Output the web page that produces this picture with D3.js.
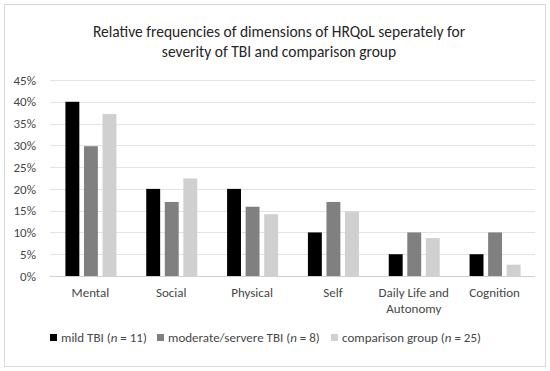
<!DOCTYPE html>
<html>
<head>
<meta charset="utf-8">
<title>HRQoL dimensions by TBI severity</title>
<script src="https://cdn.jsdelivr.net/npm/d3@7"></script>
<style>
  body { margin: 0; background: #fff; }
  text { font-family: Carlito, Lato, "Open Sans", sans-serif; }
</style>
</head>
<body>
<div class="chart"></div>
<script>
// data
var categories = ["Mental", "Social", "Physical", "Self", "Daily Life and Autonomy", "Cognition"];
var series = ["mild TBI", "moderate/servere TBI", "comparison group"];
var seriesN = [11, 8, 25];
var mild = [40, 20, 20, 10, 5, 5];
var moderate = [29.8, 17, 15.9, 17, 10, 10];
var comparison = [37.2, 22.4, 14.2, 14.8, 8.7, 2.6];
var yTicks = [0, 5, 10, 15, 20, 25, 30, 35, 40, 45];

var values = [mild, moderate, comparison];
var colors = ["#000000", "#808080", "#d0d0d0"];
var labelColor = "#474747";

var width = 550, height = 371;
var plotLeft = 50, plotRight = 535, plotTop = 80, plotBottom = 276;

var svg = d3.select(".chart").append("svg")
    .attr("width", width)
    .attr("height", height);

// outer frame
svg.append("rect")
    .attr("x", 4.5).attr("y", 4.5)
    .attr("width", 541).attr("height", 362)
    .attr("fill", "#fff")
    .attr("stroke", "#d9d9d9");

// title
var title = svg.append("text")
    .attr("text-anchor", "middle")
    .attr("font-size", 15.5)
    .attr("fill", "#262626");
title.append("tspan").attr("x", 279).attr("y", 37).text("Relative frequencies of dimensions of HRQoL seperately for");
title.append("tspan").attr("x", 279).attr("y", 57).text("severity of TBI and comparison group");

var x0 = d3.scaleBand().domain(categories).range([plotLeft, plotRight]);
var x1 = d3.scaleBand().domain(series).range([x0.bandwidth() / 2 - 25, x0.bandwidth() / 2 + 26]).paddingInner(0.25);
var y = d3.scaleLinear().domain([0, 45]).range([plotBottom, plotTop]);

// gridlines
svg.append("g").selectAll("line")
    .data(yTicks)
    .enter().append("line")
    .attr("x1", plotLeft).attr("x2", plotRight)
    .attr("y1", function(d){ return Math.round(y(d)) + 0.5; })
    .attr("y2", function(d){ return Math.round(y(d)) + 0.5; })
    .attr("stroke", function(d){ return d === 0 ? "#d0d0d0" : "#e3e3e3"; })
    .attr("stroke-width", 1.2);

// y axis labels
var yAxis = svg.append("g")
    .attr("transform", "translate(" + (plotLeft - 11) + ",0)")
    .call(d3.axisLeft(y).tickValues(yTicks).tickSize(0).tickFormat(function(d){ return d + "%"; }));
yAxis.select(".domain").remove();
yAxis.selectAll("text")
    .attr("font-size", 13)
    .attr("fill", labelColor)
    .attr("font-family", "Carlito, Lato, sans-serif");

// bars
var groups = svg.append("g").selectAll("g")
    .data(categories)
    .enter().append("g")
    .attr("transform", function(d){ return "translate(" + x0(d) + ",0)"; });

groups.selectAll("rect")
    .data(function(d, i){ return series.map(function(s, j){ return {s: s, v: values[j][i], c: colors[j]}; }); })
    .enter().append("rect")
    .attr("x", function(d){ return x1(d.s); })
    .attr("width", x1.bandwidth())
    .attr("y", function(d){ return y(d.v); })
    .attr("height", function(d){ return y(0) - y(d.v); })
    .attr("fill", function(d){ return d.c; });

// category labels
var xAxis = svg.append("g")
    .attr("transform", "translate(0," + plotBottom + ")")
    .call(d3.axisBottom(x0).tickSize(0).tickFormat(""));
xAxis.select(".domain").remove();
xAxis.selectAll(".tick").each(function(d){
    var t = d3.select(this).append("text")
        .attr("text-anchor", "middle")
        .attr("font-size", 13)
        .attr("fill", labelColor);
    var lines = d === "Daily Life and Autonomy" ? ["Daily Life and", "Autonomy"] : [d];
    lines.forEach(function(l, k){
        t.append("tspan").attr("x", 0).attr("y", 21 + k * 16).text(l);
    });
});

// legend
var legendX = [50, 157, 331];
var legend = svg.append("g").selectAll("g")
    .data(series)
    .enter().append("g")
    .attr("transform", function(d, i){ return "translate(" + legendX[i] + ",334)"; });
legend.append("rect")
    .attr("width", 7).attr("height", 7)
    .attr("fill", function(d, i){ return colors[i]; });
var lt = legend.append("text")
    .attr("x", 11).attr("y", 8)
    .attr("font-size", 13)
    .attr("fill", labelColor);
lt.append("tspan").text(function(d){ return d + " ("; });
lt.append("tspan").attr("font-style", "italic").text("n");
lt.append("tspan").text(function(d, i){ return " = " + seriesN[i] + ")"; });
</script>
</body>
</html>
